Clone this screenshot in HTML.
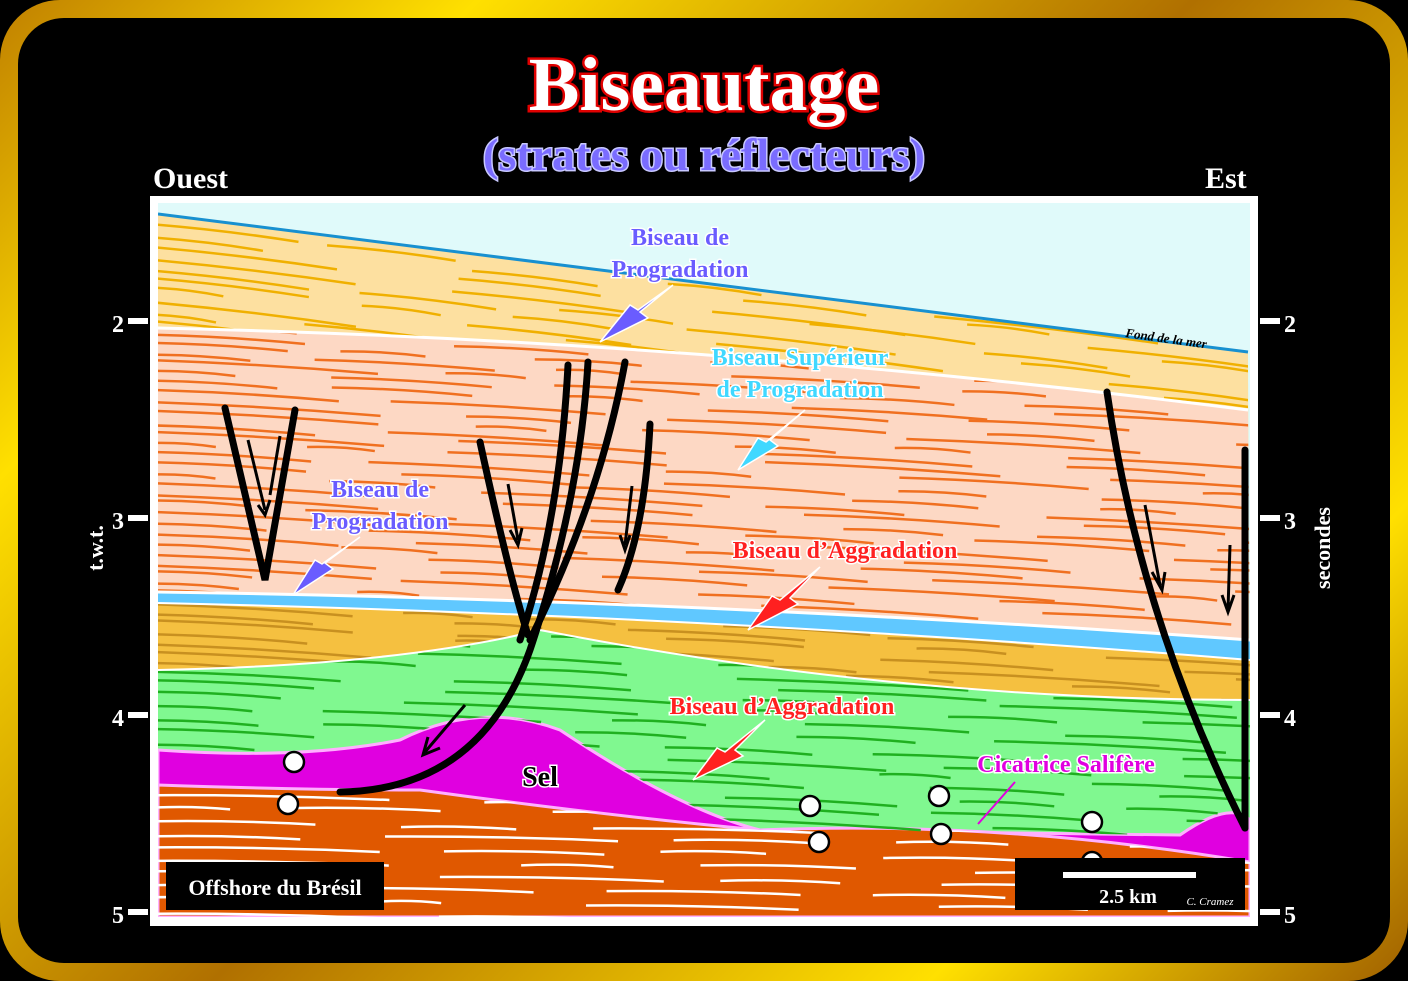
<!DOCTYPE html>
<html><head><meta charset="utf-8">
<style>
html,body{margin:0;padding:0;background:#000;}
body{width:1408px;height:981px;position:relative;overflow:hidden;font-family:"Liberation Serif",serif;}
.frame{position:absolute;left:0;top:0;width:1408px;height:981px;box-sizing:border-box;border-radius:60px;background:linear-gradient(135deg,#c08000,#ffe000 20%,#b07000 50%,#ffe000 80%,#a06000);}
.inner{position:absolute;left:18px;top:18px;width:1372px;height:945px;border-radius:46px;background:#000;}
.t{position:absolute;font-weight:bold;white-space:nowrap;}
</style></head><body>
<div class="frame"></div><div class="inner"></div>
<div class="t" style="left:0;width:1408px;text-align:center;top:42px;font-size:76px;color:#fff;-webkit-text-stroke:5px #e00000;paint-order:stroke fill;">Biseautage</div>
<div class="t" style="left:0;width:1408px;text-align:center;top:128px;font-size:46px;color:#7a6cff;-webkit-text-stroke:3px #c8c8ff;paint-order:stroke fill;">(strates ou réflecteurs)</div>
<div class="t" style="left:153px;top:162px;font-size:30px;color:#fff;">Ouest</div>
<div class="t" style="left:1205px;top:162px;font-size:30px;color:#fff;">Est</div>
<svg width="1408" height="981" style="position:absolute;left:0;top:0" id="s">
<defs>
<clipPath id="c"><rect x="158" y="203" width="1092" height="714"/></clipPath>
<clipPath id="cY"><path d="M158,214 L1248,352 L1248,410 Q700,340 158,328Z"/></clipPath>
<clipPath id="cS"><path d="M158,328 Q700,340 1248,410 L1250,640 Q700,600 158,592Z"/></clipPath>
<clipPath id="cO"><path d="M158,603 Q700,615 1250,660 L1250,700 Q900,700 540,630 Q400,665 158,670Z"/></clipPath>
<clipPath id="cG"><path d="M158,670 Q400,665 540,630 Q900,700 1250,700 L1250,820 Q1230,800 1180,835 L760,830 Q680,810 560,730 Q480,700 400,740 Q300,760 158,750Z"/></clipPath>
<clipPath id="cR"><path d="M158,785 Q300,790 420,790 Q600,815 760,830 Q1000,820 1250,862 L1250,917 L158,917Z"/></clipPath>
</defs>
<rect x="150" y="196" width="1108" height="730" fill="#fff"/>
<g clip-path="url(#c)">
<rect x="158" y="203" width="1092" height="714" fill="#e0fafa"/>
<path d="M158,214 L1248,352 L1250,917 L158,917Z" fill="#fde0a0"/>
<path d="M158,328 Q700,340 1248,410 L1250,917 L158,917Z" fill="#fdd8c4"/>
<path d="M158,592 Q700,600 1250,640 L1250,917 L158,917Z" fill="#60c8ff"/>
<path d="M158,603 Q700,615 1250,660 L1250,917 L158,917Z" fill="#f5c040"/>
<path d="M158,670 Q400,665 540,630 Q900,700 1250,700 L1250,917 L158,917Z" fill="#80f890"/>
<path d="M158,750 Q300,760 400,740 Q480,700 560,730 Q680,810 760,830 L1180,835 Q1230,800 1250,820 L1250,917 L158,917Z" fill="#e000e0" stroke="#ffb0ff" stroke-width="3"/>
<path d="M158,785 Q300,790 420,790 Q600,815 760,830 Q1000,820 1250,862 L1250,917 L158,917Z" fill="#e05800" stroke="#ffb0ff" stroke-width="3"/>
<g id="lines"></g>
<path d="M158,214 L1248,352" stroke="#1890d0" stroke-width="3" fill="none"/>
<path d="M158,328 Q700,340 1248,410" stroke="#fff" stroke-width="3" fill="none"/>
<path d="M158,592 Q700,600 1250,640" stroke="#fff" stroke-width="3" fill="none"/>
<path d="M158,603 Q700,615 1250,660" stroke="#fff" stroke-width="2" fill="none"/>
<path d="M158,670 Q400,665 540,630 Q900,700 1250,700" stroke="#fff" stroke-width="2" fill="none"/>
</g>
<g stroke="#000" stroke-width="7" fill="none" stroke-linecap="round">
<path d="M225,408 L265,580 L295,410"/>
<path d="M340,792 Q480,790 530,650 Q580,500 588,362"/>
<path d="M480,442 Q510,580 528,635"/>
<path d="M520,640 Q560,520 568,365"/>
<path d="M530,640 Q600,500 625,362"/>
<path d="M650,424 Q645,530 618,590"/>
<path d="M1107,392 Q1140,620 1245,828"/>
<path d="M1245,450 Q1245,650 1245,828"/>
</g>
<g stroke="#000" stroke-width="3" fill="none">
<path d="M248,440 L265,510 M258,505 L265,515 L270,500"/>
<path d="M280,436 L270,495"/><path d="M508,484 L518,540 M510,530 L518,545 L522,528"/>
<path d="M632,486 L625,545 M620,535 L625,550 L630,535"/>
<path d="M1145,505 L1160,585 M1152,572 L1162,590 L1165,572"/>
<path d="M1230,545 L1228,610 M1222,595 L1228,612 L1234,595"/>
<path d="M465,705 L425,752 M428,737 L423,755 L440,748"/>
</g>
<g fill="#fff" stroke="#000" stroke-width="2.5">
<circle cx="294" cy="762" r="10"/><circle cx="288" cy="804" r="10"/><circle cx="810" cy="806" r="10"/><circle cx="819" cy="842" r="10"/><circle cx="939" cy="796" r="10"/><circle cx="941" cy="834" r="10"/><circle cx="1092" cy="822" r="10"/><circle cx="1092" cy="862" r="10"/>
</g>
<g font-family="Liberation Serif,serif" font-weight="bold" font-size="24" stroke-width="3" paint-order="stroke">
<text x="680" y="245" text-anchor="middle" fill="#6a5cff" stroke="#fff">Biseau de</text>
<text x="680" y="277" text-anchor="middle" fill="#6a5cff" stroke="#fff">Progradation</text>
<text x="800" y="365" text-anchor="middle" fill="#40d8ff" stroke="#fff">Biseau Supérieur</text>
<text x="800" y="397" text-anchor="middle" fill="#40d8ff" stroke="#fff">de Progradation</text>
<text x="380" y="497" text-anchor="middle" fill="#6a5cff" stroke="#fff">Biseau de</text>
<text x="380" y="529" text-anchor="middle" fill="#6a5cff" stroke="#fff">Progradation</text>
<text x="845" y="558" text-anchor="middle" fill="#ff2020" stroke="#fff">Biseau d’Aggradation</text>
<text x="782" y="714" text-anchor="middle" fill="#ff2020" stroke="#fff">Biseau d’Aggradation</text>
<text x="1066" y="772" text-anchor="middle" fill="#e000e0" stroke="#fff">Cicatrice Salifère</text>
<text x="540" y="786" text-anchor="middle" fill="#000" stroke="#fff" font-size="28">Sel</text>
</g>
<g stroke="#fff" stroke-width="1.5">
<polygon points="673,285 640,312 648,318 600,342 630,305 638,310" fill="#6a5cff"/>
<polygon points="805,410 770,440 778,446 738,470 758,438 766,442" fill="#40d8ff"/>
<polygon points="360,537 325,563 333,569 293,595 315,560 322,564" fill="#6a5cff"/>
<polygon points="820,567 790,598 798,604 748,630 772,596 780,600" fill="#ff2020"/>
<polygon points="765,720 735,750 743,756 693,780 717,748 725,752" fill="#ff2020"/>
<path d="M1015,782 L978,824" stroke="#e000e0" stroke-width="2"/>
</g>
<text x="1125" y="337" font-family="Liberation Serif,serif" font-style="italic" font-weight="bold" font-size="13" transform="rotate(8 1125 337)">Fond de la mer</text>
<rect x="166" y="862" width="218" height="48" fill="#000"/>
<text x="275" y="895" text-anchor="middle" fill="#fff" font-family="Liberation Serif,serif" font-weight="bold" font-size="22">Offshore du Brésil</text>
<rect x="1015" y="858" width="230" height="52" fill="#000"/>
<rect x="1063" y="872" width="133" height="6" fill="#fff"/>
<text x="1128" y="903" text-anchor="middle" fill="#fff" font-family="Liberation Serif,serif" font-weight="bold" font-size="20">2.5 km</text>
<text x="1210" y="905" text-anchor="middle" fill="#fff" font-family="Liberation Serif,serif" font-style="italic" font-size="11">C. Cramez</text>
<g fill="#fff" font-family="Liberation Serif,serif" font-weight="bold" font-size="24">
<rect x="128" y="318" width="20" height="6"/><rect x="128" y="515" width="20" height="6"/><rect x="128" y="712" width="20" height="6"/><rect x="128" y="909" width="20" height="6"/>
<rect x="1260" y="318" width="20" height="6"/><rect x="1260" y="515" width="20" height="6"/><rect x="1260" y="712" width="20" height="6"/><rect x="1260" y="909" width="20" height="6"/>
<text x="112" y="332">2</text><text x="112" y="529">3</text><text x="112" y="726">4</text><text x="112" y="923">5</text>
<text x="1284" y="332">2</text><text x="1284" y="529">3</text><text x="1284" y="726">4</text><text x="1284" y="923">5</text>
<text transform="translate(103 548) rotate(-90)" text-anchor="middle" font-size="22">t.w.t.</text>
<text transform="translate(1330 548) rotate(-90)" text-anchor="middle" font-size="22">secondes</text>
</g>
</svg>
<script>
(function(){
var L=document.getElementById('lines'),ns='http://www.w3.org/2000/svg';
var r=1;function rnd(){r=(r*9301+49297)%233280;return r/233280;}
function band(clip,y0,y1,dy,col,slope,w){var g=document.createElementNS(ns,'g');g.setAttribute('clip-path','url(#'+clip+')');L.appendChild(g);
for(var y=y0;y<y1;y+=dy){for(var x=150;x<1250;x+=50+rnd()*100){var l=60+rnd()*180;var yy=y+(x-158)*slope*0.6+rnd()*6;
var p=document.createElementNS(ns,'path');p.setAttribute('d','M'+x+','+yy+' q'+(l/2)+','+(slope*l/2-3)+' '+l+','+(slope*l));
p.setAttribute('stroke',col);p.setAttribute('stroke-width',w);p.setAttribute('fill','none');g.appendChild(p);x+=l;}}}
band('cY',200,420,11,'#f0b000',0.12,2.5);
band('cS',320,650,10,'#f07020',0.06,2.5);
band('cO',590,710,10,'#c89020',0.06,2.5);
band('cG',620,840,12,'#20b020',0.05,2.5);
band('cR',780,920,13,'#ffffff',0.02,2.5);
})();
</script>
</body></html>
